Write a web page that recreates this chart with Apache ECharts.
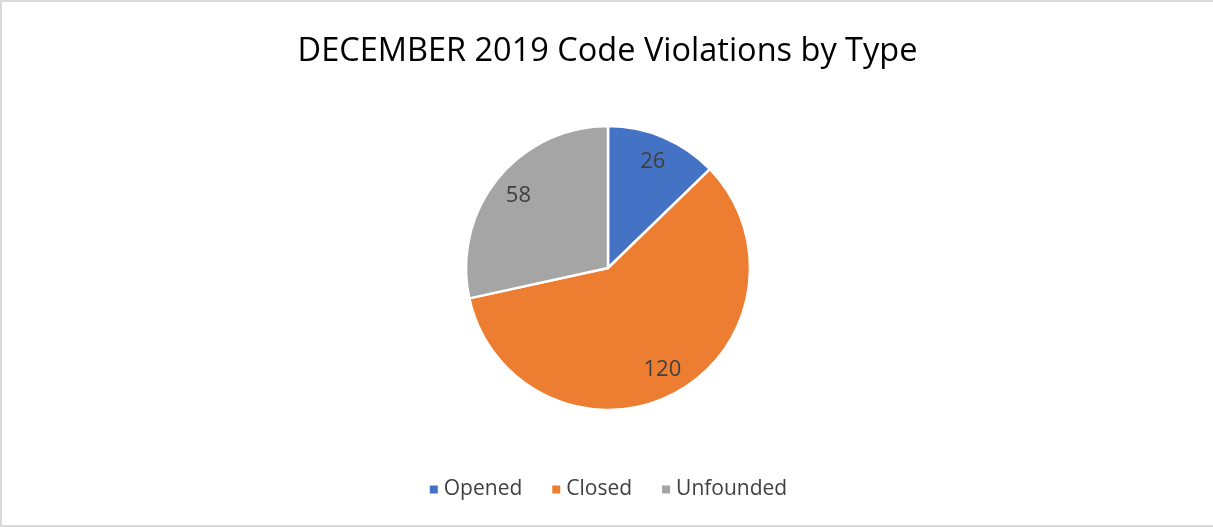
<!DOCTYPE html>
<html>
<head>
<meta charset="utf-8">
<script src="https://cdn.jsdelivr.net/npm/echarts@6/dist/echarts.min.js"></script>
<style>
html,body{margin:0;padding:0;background:#fff;}
#chart{width:1213px;height:527px;box-sizing:border-box;border-top:2px solid #d9d9d9;border-left:2px solid #d9d9d9;border-bottom:2px solid #d9d9d9;}
</style>
</head>
<body>
<div id="chart"></div>
<script>
const titleText = 'DECEMBER 2019 Code Violations by Type';
const categories = ['Opened', 'Closed', 'Unfounded'];
const values = [26, 120, 58];
const colors = ['#4472C4', '#ED7D31', '#A5A5A5'];

const data = categories.map((c, i) => ({ name: c, value: values[i], itemStyle: { color: colors[i] } }));
const chart = echarts.init(document.getElementById('chart'));
chart.setOption({
  animation: false,
  title: {
    text: titleText,
    left: 'center',
    top: 28,
    textStyle: { fontFamily: 'Open Sans', fontSize: 32.5, fontWeight: 'normal', color: '#000' }
  },
  legend: {
    data: categories,
    bottom: 20,
    left: 'center',
    icon: 'rect',
    itemWidth: 10,
    itemHeight: 10,
    itemGap: 28,
    textStyle: { fontFamily: 'Open Sans', fontSize: 21, color: '#404040' }
  },
  series: [
    {
      type: 'pie',
      center: [606, 266],
      radius: [0, 142],
      startAngle: 90,
      clockwise: true,
      label: { show: false },
      labelLine: { show: false },
      itemStyle: { borderColor: '#fff', borderWidth: 2.5 },
      emphasis: { disabled: true },
      data: data
    },
    {
      type: 'pie',
      center: [606, 266],
      radius: [82, 142],
      startAngle: 90,
      clockwise: true,
      silent: true,
      legendHoverLink: false,
      itemStyle: { color: 'rgba(0,0,0,0)', borderWidth: 0 },
      label: { show: true, position: 'inside', formatter: '{c}', fontFamily: 'Open Sans', fontSize: 22, color: '#404040' },
      labelLine: { show: false },
      emphasis: { disabled: true },
      data: categories.map((c, i) => ({ name: c + ' ', value: values[i], itemStyle: { color: 'rgba(0,0,0,0)' } }))
    }
  ]
});
</script>
</body>
</html>
